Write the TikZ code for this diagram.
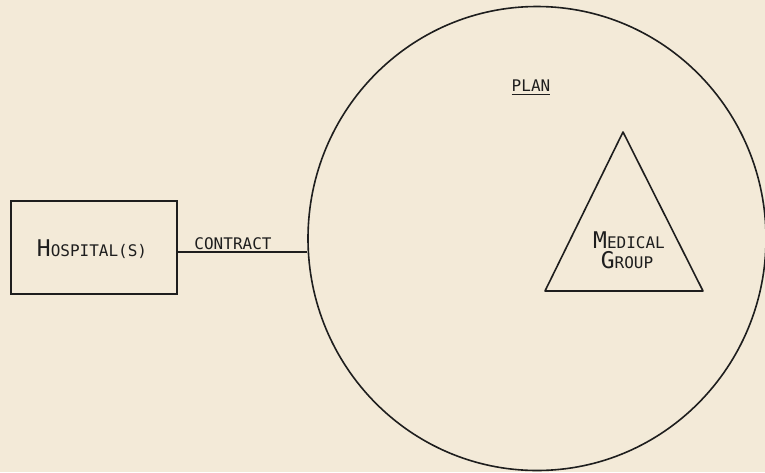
\documentclass[tikz,border=0pt]{standalone}
\usepackage{fontspec}
\newfontfamily\tw{DejaVu Sans Mono}
\usetikzlibrary{shapes.geometric}
\definecolor{paper}{HTML}{F3EAD8}
\definecolor{ink}{HTML}{1E1E1E}
\newcommand{\BigLet}[1]{{\fontsize{23}{23}\selectfont #1}}
\tikzset{
  x=1pt, y=-1pt,
  ln/.style={draw=ink, line width=1.6pt},
  lbl/.style={font=\tw\fontsize{16}{17}\selectfont, text=ink, inner sep=0pt},
}
\begin{document}
\begin{tikzpicture}
\useasboundingbox (0,0) rectangle (765,472);
\fill[paper] (0,0) rectangle (765,472);
\clip (0,0) rectangle (765,472);
% hospital box
\node[ln, rectangle, minimum width=166pt, minimum height=93pt, inner sep=0pt] (hosp) at (94,247.5) {};
\node[lbl, anchor=base] (hosptext) at (92,256) {\BigLet{H}OSPITAL(S)};
% plan circle
\node[ln, ellipse, minimum width=458pt, minimum height=464pt, inner sep=0pt] (plan) at (537,238.5) {};
% contract connector
\draw[ln] ([yshift=-4.5pt]hosp.east) -- ([yshift=-13.5pt]plan.west);
\node[lbl, anchor=base] (contract) at (233,249) {CONTRACT};
% PLAN label
\node[lbl, anchor=base] (plantext) at (531,91) {PLAN};
\draw[draw=ink, line width=1.2pt] ([yshift=-3pt]plantext.south west) -- ([yshift=-3pt]plantext.south east);
% medical group triangle
\coordinate (apex) at (623,132);
\coordinate (bl) at (545,291);
\coordinate (br) at (703,291);
\draw[ln, line join=round] (apex) -- (bl) -- (br) -- cycle;
\node[lbl, anchor=base] (medical) at (629,248) {\BigLet{M}EDICAL};
\node[lbl, anchor=base] (group) at (627,268) {\BigLet{G}ROUP};
\end{tikzpicture}
\end{document}
